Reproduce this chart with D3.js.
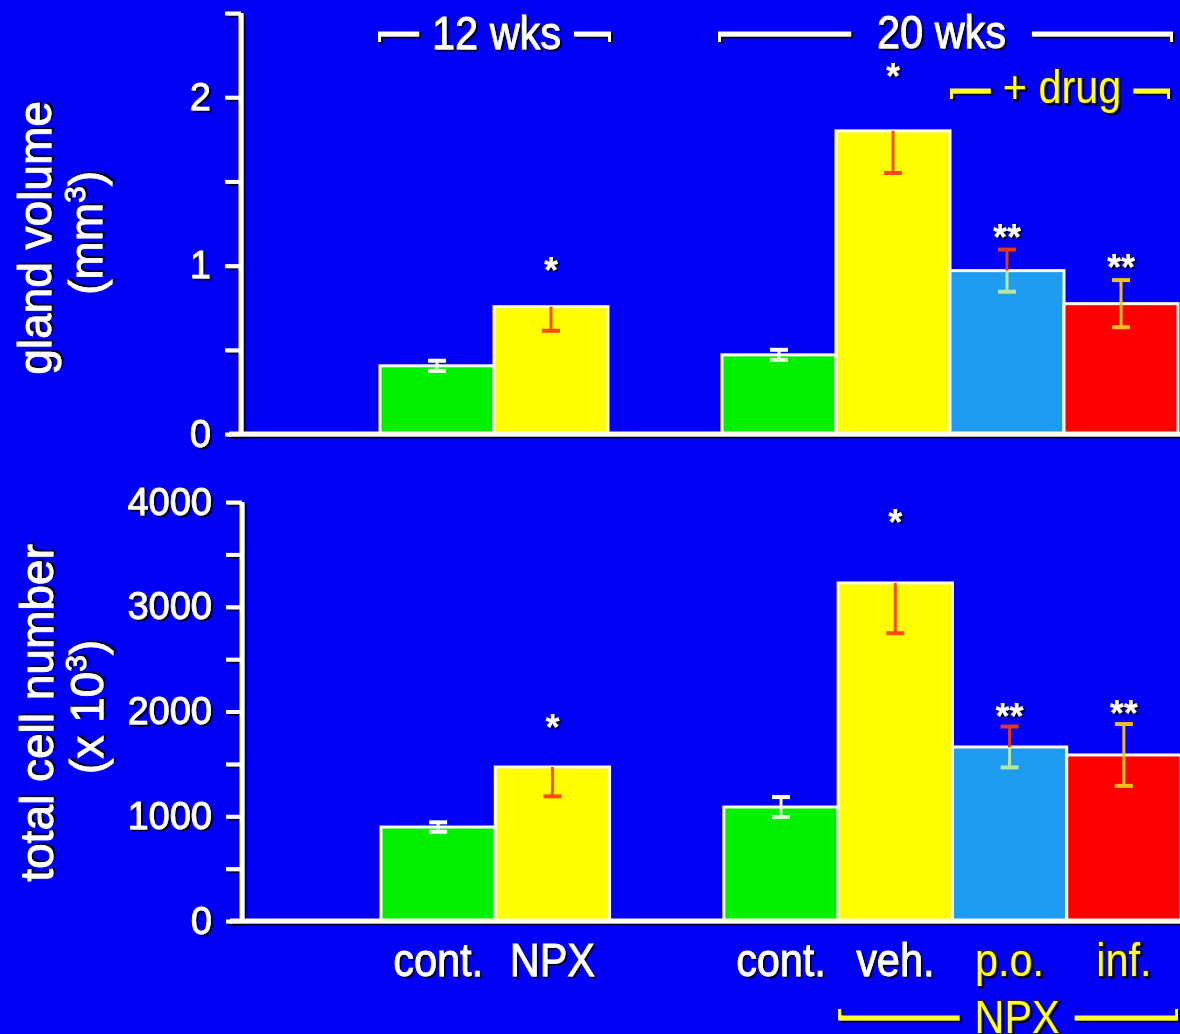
<!DOCTYPE html>
<html><head><meta charset="utf-8">
<script src="https://cdn.jsdelivr.net/npm/d3@7"></script>
<style>html,body{margin:0;padding:0;background:#0000f5;overflow:hidden}</style>
</head><body>
<svg id="chart" width="1180" height="1034"></svg>
<script>
// ---------- data ----------
const slots = ["c12", "n12", "gap", "c20", "veh", "po", "inf"];
const barKeys = ["c12", "n12", "c20", "veh", "po", "inf"];
const categoryLabels = ["cont.", "NPX", "cont.", "veh.", "p.o.", "inf."];
const glandVolume = [0.405, 0.756, 0.47, 1.80, 0.97, 0.774];
const glandVolumeErr = [0.03, 0.143, 0.03, 0.25, 0.125, 0.14];
const cellNumber = [897, 1470, 1088, 3227, 1661, 1585];
const cellNumberErr = [45, 280, 95, 480, 195, 295];
const significance = ["", "*", "", "*", "**", "**"];
const glandTicks = [0, 0.5, 1, 1.5, 2, 2.5];
const glandTickLabels = [0, 1, 2];
const cellTicks = [0, 500, 1000, 1500, 2000, 2500, 3000, 3500, 4000];
const cellTickLabels = [0, 1000, 2000, 3000, 4000];
const headerTexts = ["12 wks", "20 wks", "+ drug"];
const footerText = "NPX";

// ---------- styles ----------
const barColors = ["#00f000", "#ffff00", "#00f000", "#ffff00", "#1e9cf0", "#ff0000"];
const errUpColors = ["#ffffff", "#ff4a10", "#ffffff", "#ff4a10", "#e03818", "#f0c020"];
const errDownColors = ["#ffffff", "#ff4a10", "#e0ffd0", "#ff4a10", "#b8e8a0", "#f0c020"];
const showUpper = [true, false, true, false, true, true];
const labelColors = ["#ffffff", "#ffffff", "#ffffff", "#ffffff", "#ffff30", "#ffff30"];
const WHITE = "#ffffff", YELLOW = "#ffff30";
const FONT = "'Liberation Sans', Arial, Helvetica, sans-serif";

const svg = d3.select("#chart");
svg.append("rect").attr("width", 1180).attr("height", 1034).attr("fill", "#0000f5");
const defs = svg.append("defs");
defs.append("filter").attr("id", "sh").attr("filterUnits", "userSpaceOnUse")
  .attr("x", -3000).attr("y", -3000).attr("width", 6000).attr("height", 6000)
  .append("feDropShadow").attr("dx", 1.8).attr("dy", 1.8).attr("stdDeviation", 0.4)
  .attr("flood-color", "#000").attr("flood-opacity", 0.9);

function drawPanel(cfg) {
  const g = svg.append("g");
  const x = d3.scaleBand().domain(slots).range(cfg.xRange).paddingInner(0).paddingOuter(0);
  const y = d3.scaleLinear().domain(cfg.domain).range(cfg.yRange);
  const bw = x.bandwidth();

  // bars
  g.selectAll("rect.bar").data(barKeys).join("rect")
    .attr("class", "bar")
    .attr("x", k => x(k)).attr("width", bw)
    .attr("y", (k, i) => y(cfg.values[i]))
    .attr("height", (k, i) => y(0) - y(cfg.values[i]))
    .attr("fill", (k, i) => barColors[i])
    .attr("stroke", "#fffbe8").attr("stroke-width", 3);

  // error bars
  const eb = g.selectAll("g.err").data(barKeys).join("g").attr("class", "err");
  eb.filter((k, i) => showUpper[i]).each(function (k) {
    const i = barKeys.indexOf(k);
    const gg = d3.select(this);
    const cx = x(k) + bw / 2;
    gg.append("line").attr("x1", cx).attr("x2", cx)
      .attr("y1", y(cfg.values[i] + cfg.errs[i])).attr("y2", y(cfg.values[i]))
      .attr("stroke", errUpColors[i]).attr("stroke-width", 3);
    gg.append("line").attr("x1", cx - 9).attr("x2", cx + 9)
      .attr("y1", y(cfg.values[i] + cfg.errs[i])).attr("y2", y(cfg.values[i] + cfg.errs[i]))
      .attr("stroke", errUpColors[i]).attr("stroke-width", 4);
  });
  eb.append("line")
    .attr("x1", k => x(k) + bw / 2).attr("x2", k => x(k) + bw / 2)
    .attr("y1", (k, i) => y(cfg.values[i])).attr("y2", (k, i) => y(cfg.values[i] - cfg.errs[i]))
    .attr("stroke", (k, i) => errDownColors[i]).attr("stroke-width", 3);
  eb.append("line")
    .attr("x1", k => x(k) + bw / 2 - 9).attr("x2", k => x(k) + bw / 2 + 9)
    .attr("y1", (k, i) => y(cfg.values[i] - cfg.errs[i])).attr("y2", (k, i) => y(cfg.values[i] - cfg.errs[i]))
    .attr("stroke", (k, i) => errDownColors[i]).attr("stroke-width", 4);

  // significance stars
  g.selectAll("text.sig").data(barKeys).join("text")
    .attr("class", "sig")
    .attr("x", k => x(k) + bw / 2)
    .attr("y", (k, i) => y(cfg.values[i] + cfg.errs[i]) + cfg.starOffset)
    .attr("text-anchor", "middle")
    .attr("font-family", FONT).attr("font-size", 36).attr("font-weight", "bold")
    .attr("fill", WHITE).attr("filter", "url(#sh)")
    .text((k, i) => significance[i]);

  // y axis
  const axis = d3.axisLeft(y).tickValues(cfg.ticks).tickSize(16).tickPadding(14)
    .tickFormat(d => cfg.tickLabels.includes(d) ? String(d) : "");
  const ag = g.append("g").attr("transform", `translate(${cfg.axisX},0)`).call(axis);
  ag.select(".domain").remove();
  ag.selectAll(".tick line").attr("stroke", WHITE).attr("stroke-width", 4).attr("filter", "url(#sh)");
  ag.selectAll(".tick text").attr("fill", WHITE).attr("font-family", FONT)
    .attr("font-size", 38).attr("stroke", WHITE).attr("stroke-width", 0.8).attr("filter", "url(#sh)");
  g.append("line").attr("x1", cfg.axisX).attr("x2", cfg.axisX)
    .attr("y1", y(cfg.domain[1])).attr("y2", y(0))
    .attr("stroke", WHITE).attr("stroke-width", 5).attr("filter", "url(#sh)");
  // baseline
  g.append("line").attr("x1", cfg.axisX - 12).attr("x2", 1180)
    .attr("y1", y(0)).attr("y2", y(0))
    .attr("stroke", "#fffbf0").attr("stroke-width", 5).attr("filter", "url(#sh)");

  // rotated axis title
  cfg.title.forEach(t => {
    const tt = g.append("text")
      .attr("transform", `translate(${t.x},${t.cy}) rotate(-90)`)
      .attr("text-anchor", "middle").attr("font-family", FONT).attr("font-size", 46)
      .attr("fill", WHITE).attr("stroke", WHITE).attr("stroke-width", 0.8).attr("filter", "url(#sh)");
    tt.append("tspan").text(t.text);
    if (t.sup) {
      tt.append("tspan").attr("font-size", 30).attr("dy", -17).text(t.sup);
      tt.append("tspan").attr("dy", 17).text(t.after);
    }
  });
  return { x, y, bw };
}

const topPanel = drawPanel({
  xRange: [380, 1178], yRange: [434, 13], domain: [0, 2.5], axisX: 241,
  values: glandVolume, errs: glandVolumeErr, ticks: glandTicks, tickLabels: glandTickLabels,
  starOffset: 0,
  title: [{ text: "gland volume", x: 51, cy: 238 },
          { text: "(mm", sup: "3", after: ")", x: 102, cy: 233 }]
});
const botPanel = drawPanel({
  xRange: [381, 1181], yRange: [921, 502], domain: [0, 4000], axisX: 242,
  values: cellNumber, errs: cellNumberErr, ticks: cellTicks, tickLabels: cellTickLabels,
  starOffset: 2,
  title: [{ text: "total cell number", x: 53, cy: 713 },
          { text: "(x 10", sup: "3", after: ")", x: 103, cy: 707 }]
});

// category labels (condensed)
barKeys.forEach((k, i) => {
  const yellow = i >= 4;
  svg.append("g").attr("transform", `translate(${botPanel.x(k) + botPanel.bw / 2},976) scale(0.9,1)`)
    .append("text").attr("text-anchor", "middle").attr("font-family", FONT).attr("font-size", 46)
    .attr("fill", labelColors[i]).attr("stroke", yellow ? "#3a2800" : WHITE)
    .attr("stroke-width", yellow ? 1.6 : 0.8)
    .attr("paint-order", "stroke").attr("filter", "url(#sh)")
    .text(categoryLabels[i]);
});

// bracketed group labels
function bracket(text, x1, x2, lineY, baseY, hook, color, gap, shift) {
  const cx = (x1 + x2) / 2 + shift;
  const gg = svg.append("g").attr("filter", "url(#sh)");
  const t = gg.append("g").attr("transform", `translate(${cx},${baseY}) scale(0.9,1)`)
    .append("text").attr("text-anchor", "middle").attr("font-family", FONT).attr("font-size", 46)
    .attr("fill", color).attr("stroke", color === WHITE ? WHITE : "#3a2800")
    .attr("stroke-width", color === WHITE ? 0.8 : 1.6)
    .attr("paint-order", "stroke").text(text);
  const hw = t.node().getComputedTextLength() * 0.9 / 2;
  const segs = [[x1, cx - hw - gap], [cx + hw + gap, x2]];
  segs.forEach(s => gg.append("line").attr("x1", s[0]).attr("x2", s[1]).attr("y1", lineY).attr("y2", lineY)
    .attr("stroke", color).attr("stroke-width", 5));
  [x1 + 1.5, x2 - 1.5].forEach(px => gg.append("line").attr("x1", px).attr("x2", px)
    .attr("y1", lineY).attr("y2", lineY + hook).attr("stroke", color).attr("stroke-width", 3));
}
bracket(headerTexts[0], topPanel.x("c12") - 2, topPanel.x("n12") + topPanel.bw + 3, 34, 49, 8, WHITE, 13, 2);
bracket(headerTexts[1], topPanel.x("c20") - 4, topPanel.x("inf") + topPanel.bw - 5, 34, 48, 8, WHITE, 26, -4);
bracket(headerTexts[2], topPanel.x("po"), topPanel.x("inf") + topPanel.bw - 8, 91, 103, 8, YELLOW, 12, 2);
bracket(footerText, botPanel.x("veh"), 1178, 1018, 1033, -9, YELLOW, 15, 9);
</script>
</body></html>
